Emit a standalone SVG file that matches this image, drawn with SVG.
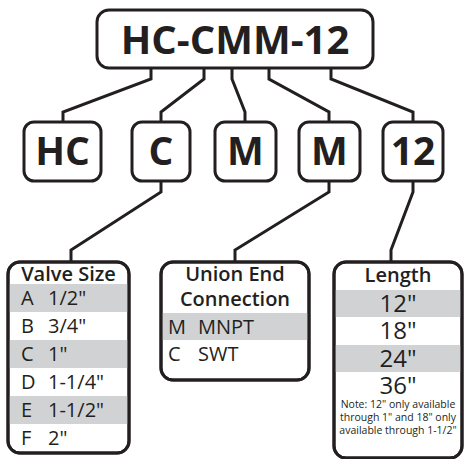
<svg xmlns="http://www.w3.org/2000/svg" width="464" height="459" viewBox="0 0 464 459">
<style>
.box{fill:#fff;stroke:#231f20;stroke-width:3}
.frame{fill:none;stroke:#231f20;stroke-width:3}
.con{fill:none;stroke:#231f20;stroke-width:3;stroke-linejoin:miter}
.row{fill:#d1d2d4}
.big{font-family:"Open Sans","Liberation Sans",sans-serif;font-weight:bold;fill:#231f20;text-anchor:middle}
.hd{font-family:"Open Sans","Liberation Sans",sans-serif;font-weight:600;font-size:20px;fill:#231f20;text-anchor:middle}
.tx{font-family:"Open Sans","Liberation Sans",sans-serif;font-size:20px;fill:#231f20}
.len{font-family:"Open Sans","Liberation Sans",sans-serif;font-size:24px;fill:#231f20;text-anchor:middle}
.note{font-family:"Open Sans","Liberation Sans",sans-serif;font-size:10.5px;fill:#231f20;text-anchor:middle}
</style>
<rect width="464" height="459" fill="#fff"/>
<g id="connectors">
<path class="con" d="M151 67V79L63 112V122"/>
<path class="con" d="M204 67V79L161 112V122"/>
<path class="con" d="M232 67V79L245 112V122"/>
<path class="con" d="M269 67V79L329 112V122"/>
<path class="con" d="M331 67V79L413 112V122"/>
<path class="con" d="M161 181V192L71 250V262"/>
<path class="con" d="M329 181V192L235 250V262"/>
<path class="con" d="M413 181V192L391 250V262"/>
</g>
<g id="model">
<rect class="box" x="97" y="10" width="276" height="58" rx="12"/>
<text class="big" x="235" y="54" font-size="40">HC-CMM-12</text>
</g>
<g id="seg-hc">
<rect class="box" x="24" y="122" width="77" height="59" rx="10"/>
<text class="big" x="62.5" y="165" font-size="39">HC</text>
</g>
<g id="seg-c">
<rect class="box" x="132" y="122" width="58" height="59" rx="10"/>
<text class="big" x="161" y="165" font-size="39">C</text>
</g>
<g id="seg-m1">
<rect class="box" x="215" y="122" width="61" height="59" rx="10"/>
<text class="big" x="245.5" y="165" font-size="39">M</text>
</g>
<g id="seg-m2">
<rect class="box" x="299" y="122" width="61" height="59" rx="10"/>
<text class="big" x="329.5" y="165" font-size="39">M</text>
</g>
<g id="seg-12">
<rect class="box" x="383" y="122" width="60" height="59" rx="10"/>
<text class="big" x="413" y="165" font-size="39">12</text>
</g>
<g id="valve-size">
<rect class="box" x="8" y="262" width="121" height="191" rx="12"/>
<rect class="row" x="9.5" y="284" width="118" height="28"/>
<rect class="row" x="9.5" y="340" width="118" height="28"/>
<rect class="row" x="9.5" y="396" width="118" height="28"/>
<rect class="frame" x="8" y="262" width="121" height="191" rx="12"/>
<text class="hd" x="68.5" y="281">Valve Size</text>
<text class="tx" x="21" y="305">A</text><text class="tx" x="48" y="305">1/2"</text>
<text class="tx" x="21" y="333">B</text><text class="tx" x="48" y="333">3/4"</text>
<text class="tx" x="21" y="361">C</text><text class="tx" x="48" y="361">1"</text>
<text class="tx" x="21" y="389">D</text><text class="tx" x="48" y="389">1-1/4"</text>
<text class="tx" x="21" y="417">E</text><text class="tx" x="48" y="417">1-1/2"</text>
<text class="tx" x="21" y="445">F</text><text class="tx" x="48" y="445">2"</text>
</g>
<g id="union-end">
<rect class="box" x="161" y="262" width="148" height="118" rx="12"/>
<rect class="row" x="162.5" y="313" width="145" height="27"/>
<rect class="frame" x="161" y="262" width="148" height="118" rx="12"/>
<text class="hd" x="235" y="281">Union End</text>
<text class="hd" x="235" y="306">Connection</text>
<text class="tx" x="168" y="334">M</text><text class="tx" x="198" y="334">MNPT</text>
<text class="tx" x="168" y="361">C</text><text class="tx" x="198" y="361">SWT</text>
</g>
<g id="length">
<rect class="box" x="334" y="262" width="128" height="196" rx="12"/>
<rect class="row" x="335.5" y="290" width="125" height="27"/>
<rect class="row" x="335.5" y="345" width="125" height="27"/>
<rect class="frame" x="334" y="262" width="128" height="196" rx="12"/>
<text class="hd" x="398" y="282" font-size="23">Length</text>
<text class="len" x="398" y="312">12"</text>
<text class="len" x="398" y="339">18"</text>
<text class="len" x="398" y="367">24"</text>
<text class="len" x="398" y="394">36"</text>
<text class="note" x="398" y="408">Note: 12" only available</text>
<text class="note" x="398" y="421">through 1" and 18" only</text>
<text class="note" x="398" y="434">available through 1-1/2"</text>
</g>
</svg>
